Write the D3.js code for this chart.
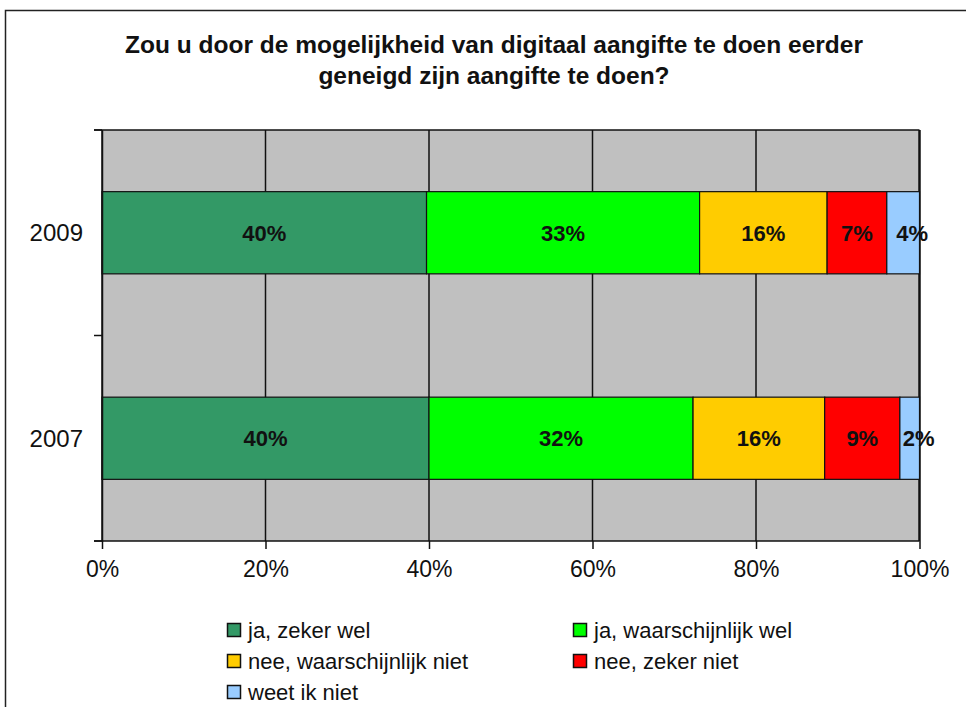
<!DOCTYPE html>
<html><head><meta charset="utf-8">
<script src="https://cdn.jsdelivr.net/npm/d3@7"></script>
<style>body{margin:0;background:#fff;}svg{display:block;font-family:"Liberation Sans",Arial,sans-serif;}</style>
</head><body>
<script>
const years = ["2009", "2007"];
const seriesNames = ["ja, zeker wel", "ja, waarschijnlijk wel", "nee, waarschijnlijk niet", "nee, zeker niet", "weet ik niet"];
const seriesColors = ["#339966", "#00ff00", "#ffcc00", "#ff0000", "#99ccff"];
const values2009 = [39.7, 33.4, 15.6, 7.3, 4.0];
const values2007 = [40.0, 32.3, 16.1, 9.2, 2.4];
const xTicks = [0, 20, 40, 60, 80, 100];
const titleLines = ["Zou u door de mogelijkheid van digitaal aangifte te doen eerder", "geneigd zijn aangifte te doen?"];

const W = 966, H = 707;
const svg = d3.select("body").append("svg").attr("width", W).attr("height", H);
// outer frame
svg.append("rect").attr("x", 5.5).attr("y", 10.5).attr("width", W + 20).attr("height", H + 20)
  .attr("fill", "#fff").attr("stroke", "#222").attr("stroke-width", 1.5);

const m = {left: 102, right: 919.5, top: 130, bottom: 541};
const x = d3.scaleLinear().domain([0, 100]).range([m.left, m.right]);
const y = d3.scaleBand().domain(years).range([m.top, m.bottom]).paddingInner(0.6).paddingOuter(0.3);
const yBand = d3.scaleBand().domain(years).range([m.top, m.bottom]);

// title
svg.append("g").selectAll("text").data(titleLines).join("text")
  .attr("x", 494).attr("y", (d, i) => 53 + i * 31).attr("text-anchor", "middle")
  .attr("font-size", 24.5).attr("font-weight", "bold").attr("fill", "#111").text(d => d);

// plot background
svg.append("rect").attr("x", m.left).attr("y", m.top).attr("width", m.right - m.left).attr("height", m.bottom - m.top).attr("fill", "#c0c0c0");

// vertical gridlines
svg.append("g").selectAll("line").data(xTicks).join("line")
  .attr("x1", d => x(d)).attr("x2", d => x(d)).attr("y1", m.top).attr("y2", m.bottom)
  .attr("stroke", "#111").attr("stroke-width", d => d === 100 ? 2.5 : 1.5);

// bars
const rows = [values2009, values2007];
rows.forEach((vals, ri) => {
  let cum = 0;
  const segs = vals.map((v, i) => { const s = {y: years[ri], x0: cum, x1: cum + v, v, i}; cum += v; return s; });
  const g = svg.append("g");
  g.selectAll("rect").data(segs).join("rect")
    .attr("x", d => x(d.x0)).attr("width", d => x(d.x1) - x(d.x0))
    .attr("y", y(years[ri])).attr("height", y.bandwidth())
    .attr("fill", d => seriesColors[d.i]).attr("stroke", "#111").attr("stroke-width", 1.2);
  g.selectAll("text").data(segs).join("text")
    .attr("x", d => (x(d.x0) + x(d.x1)) / 2 + (x(d.x1) - x(d.x0) < 40 ? 9 : 0))
    .attr("y", y(years[ri]) + y.bandwidth() / 2 + 8)
    .attr("text-anchor", "middle").attr("font-size", 22).attr("font-weight", "bold").attr("fill", "#111")
    .text(d => Math.round(d.v) + "%");
});

// top border line
svg.append("line").attr("x1", m.left - 8).attr("x2", m.right).attr("y1", m.top).attr("y2", m.top).attr("stroke", "#111").attr("stroke-width", 1.5);

// left axis
const yAxis = d3.axisLeft(yBand).tickSize(0).tickPadding(19);
const ya = svg.append("g").attr("transform", `translate(${m.left},0)`).call(yAxis);
ya.select(".domain").attr("stroke", "#111").attr("stroke-width", 1.5);
ya.selectAll("text").attr("font-size", 24).attr("fill", "#111").attr("dy", "0.36em").attr("font-family", "Liberation Sans, Arial, sans-serif");
// category separator ticks
const sepY = [m.top, yBand.step() + m.top, m.bottom];
svg.append("g").selectAll("line").data(sepY).join("line")
  .attr("x1", m.left - 8).attr("x2", m.left).attr("y1", d => d).attr("y2", d => d).attr("stroke", "#111").attr("stroke-width", 1.5);

// bottom axis
const xAxis = d3.axisBottom(x).tickValues(xTicks).tickFormat(d => d + "%").tickSize(8).tickPadding(12).tickSizeOuter(0);
const xa = svg.append("g").attr("transform", `translate(0,${m.bottom})`).call(xAxis);
xa.select(".domain").attr("stroke", "#111").attr("stroke-width", 1.5).attr("d", `M${m.left - 8},0H${m.right}`);
xa.selectAll(".tick line").attr("stroke", "#111").attr("stroke-width", 1.5);
xa.selectAll("text").attr("font-size", 23).attr("fill", "#111").attr("font-family", "Liberation Sans, Arial, sans-serif");

// legend
const legPos = [[234, 630], [580, 630], [234, 661], [580, 661], [234, 692]];
const lg = svg.append("g").selectAll("g").data(seriesNames).join("g")
  .attr("transform", (d, i) => `translate(${legPos[i][0]},${legPos[i][1]})`);
lg.append("rect").attr("x", -6.5).attr("y", -6.5).attr("width", 13).attr("height", 13)
  .attr("fill", (d, i) => seriesColors[i]).attr("stroke", "#111").attr("stroke-width", 1.5);
lg.append("text").attr("x", 14).attr("y", 7.5).attr("font-size", 22).attr("fill", "#111").text(d => d);
</script>
</body></html>
